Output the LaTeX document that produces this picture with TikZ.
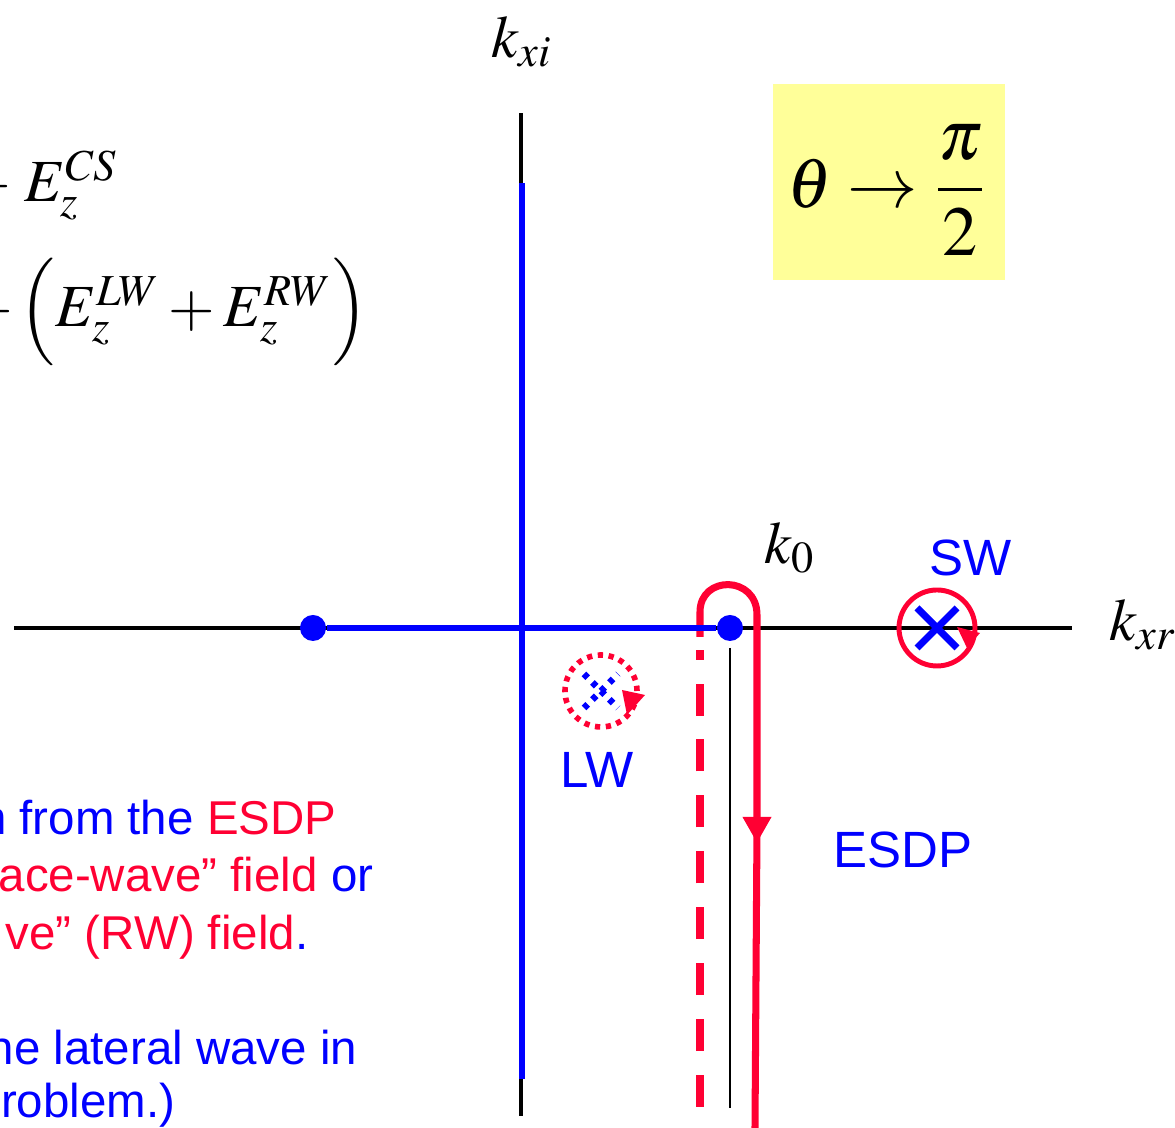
\documentclass[tikz,border=0pt]{standalone}
\usepackage{mathptmx}
\usepackage[no-math]{fontspec}
\setsansfont{Liberation Sans}
\usetikzlibrary{arrows.meta,calc}
\definecolor{wblue}{RGB}{0,0,255}
\definecolor{wred}{RGB}{255,0,51}
\definecolor{noteyel}{RGB}{255,255,153}

\begin{document}
\begin{tikzpicture}[
  x=0.01cm, y=0.01cm,
  axis/.style={draw=black, line width=1.1pt},
  cut/.style={draw=wblue, line width=1.7pt},
  contour/.style={draw=wred, line width=2pt},
  branchpt/.style={circle, fill=wblue, inner sep=0pt, minimum size=2.6mm},
  lbl/.style={font=\sffamily\fontsize{14.5}{17}\selectfont, text=wblue, inner sep=0pt},
  mth/.style={font=\fontsize{17}{20}\selectfont, inner sep=0pt},
  note/.style={font=\sffamily\fontsize{13.5}{16}\selectfont, anchor=base east, inner sep=0pt, text=wblue},
  ring/.style={draw=wred, line width=1.4pt},
  tip/.style={-{Triangle[length=2.6mm,width=2.7mm]}}
]
  \useasboundingbox (0,0) rectangle (1175,1128);

  % axes
  \coordinate (xl) at (14,500);
  \coordinate (xr) at (1072,500);
  \coordinate (yb) at (521,12);
  \coordinate (yt) at (521,1015);
  \draw[axis] (xl) -- (xr);
  \draw[axis] (yb) -- (yt);
  \node[mth] (kxi) at (522,1086) {$k_{xi}$};
  \node[mth] (kxr) at (1143,503) {$k_{xr}$};

  % steepest descent path
  \coordinate (pa) at (700,21);
  \coordinate (pb) at (700,478);
  \coordinate (pc) at (700,491);
  \coordinate (pd) at (757,513);
  \coordinate (pe) at (757,285);
  \coordinate (pf) at (757,300);
  \coordinate (pg) at (755,0);
  \draw[contour, line width=2.2pt, dash pattern=on 9.1pt off 6.8pt] (pa) -- (pb);
  \draw[contour, tip] (pc) -- (700,516) .. controls (700,553) and (757,553) .. (pd) -- (pe);
  \draw[contour] (pf) -- (pg);
  \coordinate (va) at (730,480);
  \coordinate (vb) at (730,20);
  \draw[line width=0.45pt] (va) -- (vb);

  % branch cuts
  \node[branchpt] (bl) at (313,500) {};
  \node[branchpt] (k0pt) at (730,500) {};
  \coordinate (ct) at (522,945);
  \coordinate (cb) at (522,49);
  \draw[cut] (ct) -- (cb);
  \draw[cut] (bl) -- (k0pt);
  \node[mth] (k0) at (790,580) {$k_0$};

  % poles
  \coordinate (lwc) at (601,437);
  \draw[ring, line width=1.6pt, dash pattern=on 1.5pt off 1.6pt] (lwc) circle (36);
  \fill[wred] ($(lwc)+(21,1)$) -- ($(lwc)+(44,-4)$) -- ($(lwc)+(26,-24)$) -- cycle;
  \draw[wblue, line width=1.9pt, dash pattern=on 1.5pt off 1.9pt] ($(lwc)+(-17,17)$) -- ($(lwc)+(17,-17)$);
  \draw[wblue, line width=1.9pt, dash pattern=on 1.5pt off 1.9pt] ($(lwc)+(-17,-17)$) -- ($(lwc)+(17,17)$);
  \node[lbl] (lw) at (597,358) {LW};

  \coordinate (swc) at (937,500);
  \draw[ring] (swc) circle (38);
  \fill[wred] ($(swc)+(20,1)$) -- ($(swc)+(43,-5)$) -- ($(swc)+(30,-20)$) -- cycle;
  \draw[wblue, line width=2pt] ($(swc)+(-20,20)$) -- ($(swc)+(20,-20)$);
  \draw[wblue, line width=2pt] ($(swc)+(-20,-20)$) -- ($(swc)+(20,20)$);
  \node[lbl] (sw) at (971,570) {SW};

  \node[lbl] (esdp) at (903,278) {ESDP};

  % limit box
  \node[fill=noteyel, minimum width=2.32cm, minimum height=1.95cm, inner sep=0pt] (lim) at (889,946) {};
  \node[font=\fontsize{20}{24}\selectfont, inner sep=0pt] (limtxt) at (887,938) {$\theta\rightarrow\displaystyle\frac{\pi}{2}$};

  % field decomposition
  \node[mth, anchor=base west] (eqa) at (-36,926) {$+\;E_z^{CS}$};
  \node[mth, anchor=base west] (eqb) at (-34,801) {$+\,\Bigl(E_z^{LW}+E_z^{RW}\Bigr)$};

  % remarks
  \node[note] (rma) at (337,293) {n from the {\color{wred}ESDP}};
  \node[note] (rmb) at (374,236) {{\color{wred}ace-wave” field} or};
  \node[note] (rmc) at (309,178) {{\color{wred}ve” (RW) field}.};
  \node[note] (rmd) at (358,63) {he lateral wave in};
  \node[note] (rme) at (176,10) {problem.)};
\end{tikzpicture}
\end{document}
